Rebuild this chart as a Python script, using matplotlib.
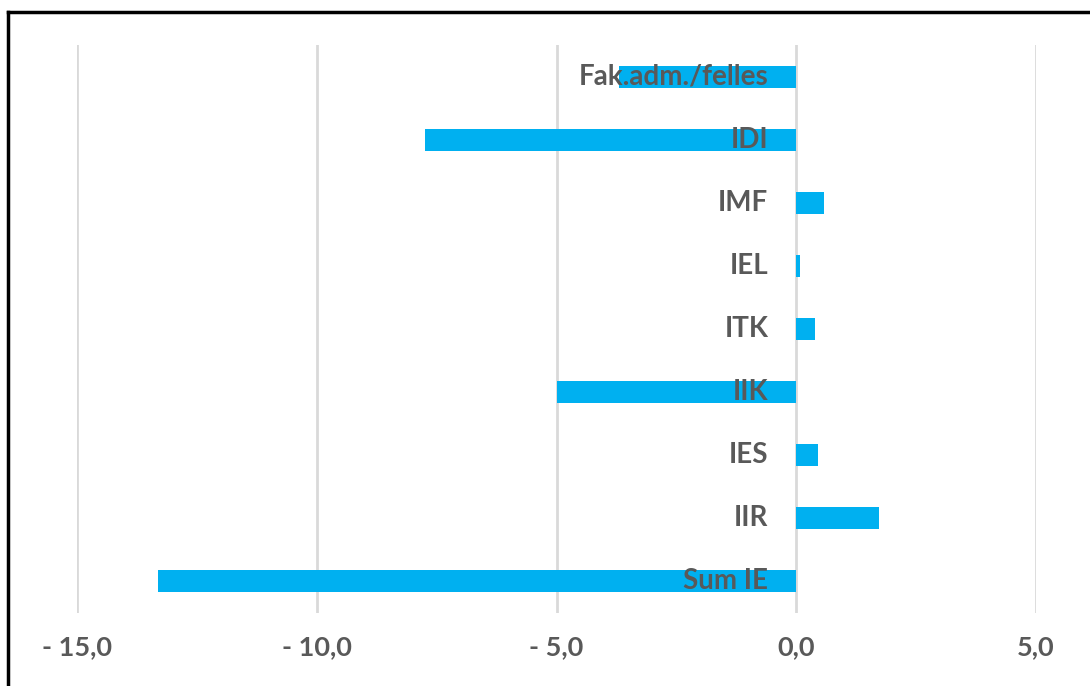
import matplotlib.pyplot as plt
from matplotlib.lines import Line2D

# data, top to bottom as shown
categories = ["Fak.adm./felles", "IDI", "IMF", "IEL", "ITK", "IIK", "IES", "IIR", "Sum IE"]
values = [-3.7, -7.75, 0.57, 0.08, 0.4, -4.98, 0.45, 1.72, -13.32]
xticks = [-15, -10, -5, 0, 5]
xtick_labels = ["- 15,0", "- 10,0", "- 5,0", "0,0", "5,0"]

W, H = 1090, 686
fig = plt.figure(figsize=(W / 100, H / 100), dpi=100)
ax = fig.add_axes([77 / W, 1 - 613 / H, (1036 - 77) / W, (613 - 45) / H])

ypos = list(range(len(categories)))
ax.barh(ypos, values, height=0.35, color="#00B0F0", zorder=2)

ax.set_xlim(-15, 5)
ax.set_ylim(len(categories) - 0.5, -0.5)
ax.set_xticks(xticks)
ax.set_xticklabels(xtick_labels)
ax.set_yticks([])
ax.grid(axis="x", color="#D9D9D9", linewidth=2, zorder=0)
ax.tick_params(axis="x", length=0, pad=16, labelsize=19.5, labelcolor="#595959")
for lbl in ax.get_xticklabels():
    lbl.set_fontfamily("Lato")
    lbl.set_fontweight("bold")
for s in ax.spines.values():
    s.set_visible(False)

# category labels sit just left of zero
for y, name in zip(ypos, categories):
    ax.text(-0.58, y, name, ha="right", va="center", fontsize=20,
            fontfamily="Lato", fontweight="bold", color="#595959", zorder=3)

# outer frame (only top and left visible)
top = 1 - 12 / H
fig.add_artist(Line2D([8 / W, 1], [top, top], transform=fig.transFigure,
                      color="black", linewidth=2.5))
fig.add_artist(Line2D([8 / W, 8 / W], [0, top], transform=fig.transFigure,
                      color="black", linewidth=2.5))

fig.savefig("out.png", dpi=100)
